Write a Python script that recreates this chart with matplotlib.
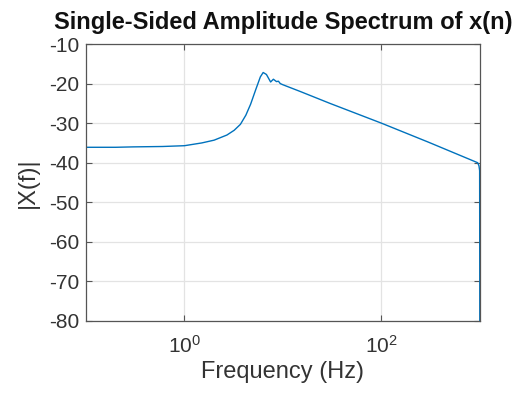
import matplotlib
matplotlib.use("Agg")
import matplotlib.pyplot as plt
from matplotlib.ticker import FixedLocator, NullLocator

freq_hz = [0.1, 0.2, 0.3, 0.6, 1.0, 1.5, 2.0, 2.7, 3.2, 3.7, 4.2, 4.7, 5.3, 5.9,
           6.3, 6.8, 7.5, 8.0, 8.6, 9.0, 9.4, 10, 15, 30, 100, 300, 950, 980,
           995, 1000]
amp_db = [-36.1, -36.1, -36.0, -35.9, -35.7, -35.0, -34.3, -33.0, -31.8, -30.3,
          -28.0, -25.2, -21.5, -18.3, -17.2, -17.7, -19.6, -18.9, -19.5, -19.4,
          -20.0, -20.3, -22.0, -25.0, -30.0, -34.8, -40.0, -40.8, -42.0, -90.0]

x_ticks = [1, 100]
x_tick_labels = [r"$\mathregular{10^{0}}$", r"$\mathregular{10^{2}}$"]
y_ticks = [-80, -70, -60, -50, -40, -30, -20, -10]

plt.rcParams['font.family'] = ['Liberation Sans', 'DejaVu Sans']
plt.rcParams['axes.unicode_minus'] = False

fig = plt.figure(figsize=(5.25, 3.94), dpi=100)
ax = fig.add_axes([0.1638, 0.1853, 0.914 - 0.1638, 0.8883 - 0.1853])

ax.plot(freq_hz, amp_db, color='#0072BD', linewidth=1.0)
ax.set_xscale('log')
ax.set_xlim(0.1, 1000)
ax.set_ylim(-80, -10)
ax.xaxis.set_major_locator(FixedLocator(x_ticks))
ax.xaxis.set_minor_locator(NullLocator())
ax.set_xticklabels(x_tick_labels)
ax.set_yticks(y_ticks)
ax.grid(True, color='#e3e3e3', linewidth=0.9)
ax.set_axisbelow(True)

axc = '#555555'
for s in ax.spines.values():
    s.set_color(axc)
    s.set_linewidth(0.9)
ax.tick_params(direction='in', top=True, right=True, length=4, color=axc,
               labelcolor='#333333', labelsize=15)
ax.tick_params(axis='y', pad=5)
ax.tick_params(axis='x', pad=10)

ax.set_title('Single-Sided Amplitude Spectrum of x(n)', fontsize=17,
             fontweight='bold', color='#111111', pad=11)
ax.set_xlabel('Frequency (Hz)', fontsize=17, color='#333333', labelpad=3)
ax.set_ylabel('|X(f)|', fontsize=17, color='#333333', labelpad=7)

fig.savefig('out.png', dpi=100)
